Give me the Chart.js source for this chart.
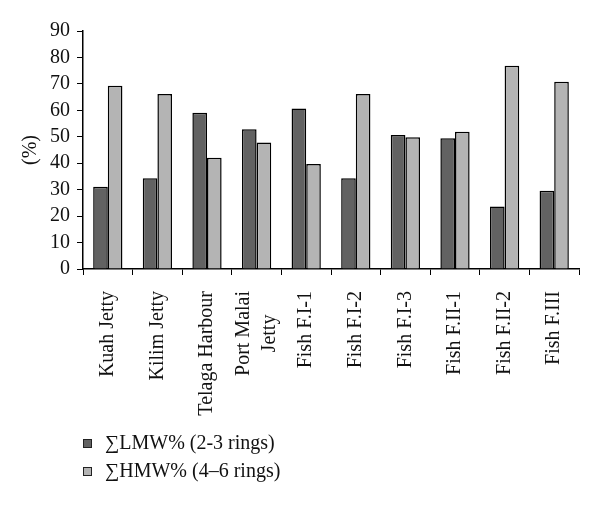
<!DOCTYPE html>
<html>
<head>
<meta charset="utf-8">
<script src="https://cdn.jsdelivr.net/npm/chart.js@4"></script>
<style>
  html, body { margin: 0; padding: 0; background: #fff; }
  #wrap { width: 600px; height: 506px; }
</style>
</head>
<body>
<div id="wrap"><canvas id="myChart" width="600" height="506"></canvas></div>
<script>
// sites / samples on the x axis
const sites = ["Kuah Jetty", "Kilim Jetty", "Telaga Harbour", ["Port Malai", "Jetty"],
  "Fish F.I-1", "Fish F.I-2", "Fish F.I-3", "Fish F.II-1", "Fish F.II-2", "Fish F.III"];

// low molecular weight share (2-3 rings)
const lmwValues = [31.1, 34.3, 59.1, 52.8, 60.7, 34.3, 50.7, 49.4, 23.6, 29.6];
// high molecular weight share (4-6 rings)
const hmwValues = [69.3, 66.2, 42.1, 47.8, 39.7, 66.2, 49.8, 51.9, 76.9, 70.8];

const seriesNames = ["\u2211LMW% (2-3 rings)", "\u2211HMW% (4\u20136 rings)"];
const yTicks = [0, 10, 20, 30, 40, 50, 60, 70, 80, 90];

const FONT = "'Liberation Serif', 'DejaVu Serif', serif";

//------------------ multi-line x labels: center the lines on the tick ------------------
const centerMultiLine = {
  id: "centerMultiLine",
  beforeDraw(chart) {
    const scale = chart.scales.x;
    const ctx = chart.ctx;
    scale.getLabelItems().forEach(item => {
      if (!Array.isArray(item.label) || item._centered) return;
      ctx.save();
      ctx.font = item.font.string;
      const maxW = Math.max(...item.label.map(l => ctx.measureText(l).width));
      ctx.restore();
      const lh = item.font.lineHeight;
      item.textOffset -= (item.label.length - 1) * lh / 2;
      item.options.textAlign = "center";
      item.options.translation[1] += maxW / 2;
      item._centered = true;
    });
  },
};

//------------------ legend drawn under the chart, stacked ------------------
const stackedLegend = {
  id: "stackedLegend",
  afterDraw(chart) {
    const ctx = chart.ctx;
    ctx.save();
    ctx.font = "20px " + FONT;
    ctx.textBaseline = "middle";
    chart.data.datasets.forEach((ds, i) => {
      const y = 443 + i * 28;
      ctx.fillStyle = ds.backgroundColor;
      ctx.fillRect(83, y - 4, 8, 8);
      ctx.strokeStyle = "#222";
      ctx.lineWidth = 1;
      ctx.strokeRect(83.5, y - 3.5, 8, 8);
      ctx.fillStyle = "#111";
      ctx.fillText(ds.label, 105, y + 1);
    });
    ctx.restore();
  },
};

const data = {
  labels: sites,
  datasets: [
    {
      label: seriesNames[0],
      data: lmwValues,
      backgroundColor: "#626262",
      borderColor: "#000",
      borderWidth: 1.5,
    },
    {
      label: seriesNames[1],
      data: hmwValues,
      backgroundColor: "#b4b4b4",
      borderColor: "#000",
      borderWidth: 1.5,
    },
  ],
};

const config = {
  type: "bar",
  data,
  options: {
    responsive: false,
    animation: false,
    layout: { padding: { top: 31, right: 21, bottom: 60, left: 0 } },
    datasets: { bar: { categoryPercentage: 0.59, barPercentage: 1.0 } },
    plugins: {
      legend: { display: false },
      tooltip: { enabled: false },
    },
    scales: {
      x: {
        grid: {
          display: true,
          drawOnChartArea: false,
          offset: true,
          color: "#000",
          tickLength: 6,
          tickWidth: 1,
        },
        border: { color: "#000", width: 1.5 },
        ticks: {
          color: "#111",
          font: { family: FONT, size: 20, lineHeight: 1.3 },
          maxRotation: 90,
          minRotation: 90,
          autoSkip: false,
          padding: 16,
        },
        afterFit(scale) { scale.height = 177; },
      },
      y: {
        min: 0,
        max: 90,
        afterBuildTicks(scale) { scale.ticks = yTicks.map(v => ({ value: v })); },
        grid: {
          display: true,
          drawOnChartArea: false,
          color: "#000",
          tickLength: 6,
          tickWidth: 1,
        },
        border: { color: "#000", width: 1.5 },
        ticks: {
          color: "#111",
          font: { family: FONT, size: 20 },
          padding: 7,
          autoSkip: false,
        },
        title: {
          display: true,
          text: "(%)",
          color: "#111",
          font: { family: FONT, size: 20 },
          padding: { top: 19 },
        },
        afterFit(scale) { scale.width = 83; },
      },
    },
  },
  plugins: [centerMultiLine, stackedLegend],
};

const myChart = new Chart(document.getElementById("myChart"), config);
</script>
</body>
</html>
